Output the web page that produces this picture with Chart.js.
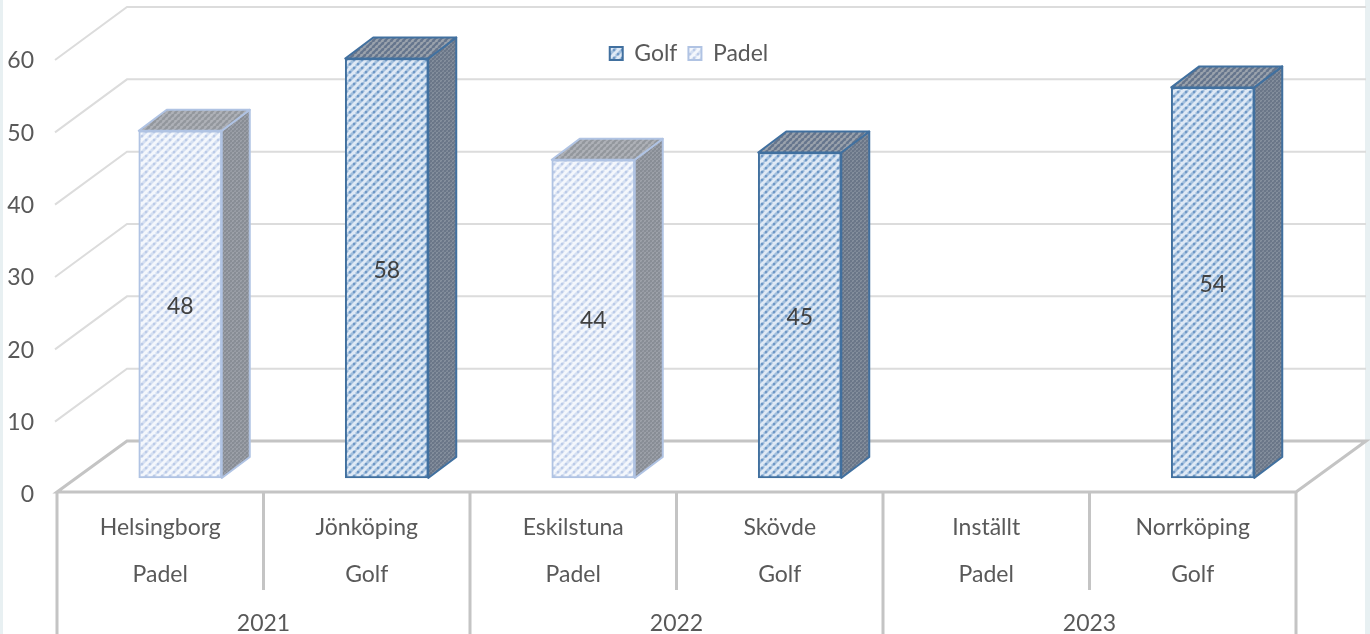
<!DOCTYPE html>
<html><head><meta charset="utf-8">
<style>
html,body{margin:0;padding:0;width:1370px;height:634px;overflow:hidden;
background:linear-gradient(to right,#e8f0f2 3px,#fff 3px,#fff 1365px,#e8f0f2 1365px);}
canvas{display:block;filter:blur(0.45px);}
</style>
<script src="https://cdn.jsdelivr.net/npm/chart.js@4/dist/chart.umd.min.js"></script>
</head><body>
<canvas id="c" width="1370" height="634"></canvas>
<script>
const categories=[["Helsingborg","Padel"],["Jönköping","Golf"],["Eskilstuna","Padel"],["Skövde","Golf"],["Inställt","Padel"],["Norrköping","Golf"]];
const years=["2021","2022","2023"];
const golf=[null,58,null,45,null,54];
const padel=[48,null,44,null,null,null];
const yMax=60, yStep=10;
const FONT='Lato, Carlito, sans-serif';
const TXT='#595959';

function hatch(bg,stripe,dot,s=8){
  const c=document.createElement('canvas');c.width=c.height=s;
  const x=c.getContext('2d');
  x.fillStyle=bg;x.fillRect(0,0,s,s);
  x.strokeStyle=stripe;x.lineWidth=s*0.36;
  for(let o=-s;o<=s;o+=s){x.beginPath();x.moveTo(o,s);x.lineTo(o+s,0);x.stroke();}
  x.fillStyle=dot;
  x.fillRect(s*0.25-1,s*0.75-1,2.2,2.2);x.fillRect(s*0.75-1,s*0.25-1,2.2,2.2);
  return x.createPattern(c,'repeat');
}
const ctxMain=document.getElementById('c').getContext('2d');
const styles={
  Golf:{front:hatch('#dfe9f5','#a2bfdd','#6f98c6'),border:'#41709f',
        side:hatch('#86909e','#6a7688','#6a7688',4),top:hatch('#9aa2ac','#66768d','#66768d',6)},
  Padel:{front:hatch('#f4f7fc','#d5e0f2','#bccbe8'),border:'#b0c3e3',
        side:hatch('#9ea2aa','#888d95','#888d95',4),top:hatch('#aeb1b7','#93979d','#93979d',6)}
};

const plane={dx:70,dy:-51};     // depth of the 3D floor / walls
const barShift={dx:20,dy:-14};  // bars stand inside the depth
const barDepth={dx:28,dy:-21};

const scene={
  id:'scene',
  afterLayout(chart){
    const lg=chart.legend;
    lg.top+=17;lg.bottom+=17;lg.left+=41;lg.right+=41;
  },
  beforeDatasetsDraw(chart){
    const {ctx,scales:{y,x}}=chart, L=x.left,R=x.right;
    ctx.save();ctx.lineJoin='miter';
    ctx.strokeStyle='#dcdcdc';ctx.lineWidth=2;
    for(let v=yStep;v<=yMax;v+=yStep){
      const p=y.getPixelForValue(v);
      ctx.beginPath();ctx.moveTo(L-2,p+2);ctx.lineTo(L+plane.dx,p+plane.dy);ctx.lineTo(R+plane.dx,p+plane.dy);ctx.stroke();
    }
    const p0=y.getPixelForValue(0);
    ctx.strokeStyle='#c4c4c4';ctx.lineWidth=3;
    ctx.beginPath();ctx.moveTo(L,p0);ctx.lineTo(L+plane.dx,p0+plane.dy);ctx.lineTo(R+plane.dx,p0+plane.dy);ctx.lineTo(R,p0);ctx.closePath();ctx.stroke();
    const cw=(R-L)/categories.length, bottom=chart.height;
    ctx.beginPath();
    categories.forEach((_,i)=>{
      const px=x.getPixelForTick(i)-cw/2;
      ctx.moveTo(px,p0);ctx.lineTo(px,i%2===0?bottom:590);
    });
    ctx.moveTo(R,p0);ctx.lineTo(R,bottom);
    ctx.stroke();
    ctx.restore();
    chart.data.datasets.forEach((ds,di)=>{
      const st=styles[ds.label];
      chart.getDatasetMeta(di).data.forEach((bar,i)=>{
        if(ds.data[i]==null)return;
        const b=bar.getProps(['x','y','base','width'],true);
        const l=b.x-b.width/2+barShift.dx,r=b.x+b.width/2+barShift.dx,t=b.y+barShift.dy,bt=b.base+barShift.dy;
        const d=barDepth;
        ctx.save();ctx.lineWidth=2;ctx.strokeStyle=ds.borderColor;ctx.lineJoin='round';
        ctx.fillStyle=st.side;
        ctx.beginPath();ctx.moveTo(r,t);ctx.lineTo(r+d.dx,t+d.dy);ctx.lineTo(r+d.dx,bt+d.dy);ctx.lineTo(r,bt);ctx.closePath();ctx.fill();ctx.stroke();
        ctx.fillStyle=st.top;
        ctx.beginPath();ctx.moveTo(l,t);ctx.lineTo(l+d.dx,t+d.dy);ctx.lineTo(r+d.dx,t+d.dy);ctx.lineTo(r,t);ctx.closePath();ctx.fill();ctx.stroke();
        ctx.restore();
      });
    });
    ctx.save();
    ctx.translate(barShift.dx,barShift.dy);
  },
  afterDatasetsDraw(chart){
    const {ctx}=chart;
    ctx.restore();
    ctx.save();
    ctx.font='23px '+FONT;ctx.fillStyle='#404040';ctx.textAlign='center';ctx.textBaseline='middle';
    chart.data.datasets.forEach((ds,di)=>{
      chart.getDatasetMeta(di).data.forEach((bar,i)=>{
        if(ds.data[i]==null)return;
        const b=bar.getProps(['x','y','base'],true);
        ctx.fillText(String(ds.data[i]),b.x+barShift.dx,(b.y+b.base)/2+barShift.dy+2);
      });
    });
    ctx.restore();
  }
};

new Chart(ctxMain,{
  type:'bar',
  data:{labels:categories,datasets:[
    {label:'Golf',data:golf,backgroundColor:styles.Golf.front,borderColor:styles.Golf.border,borderWidth:2,borderSkipped:false,barThickness:83,grouped:false,clip:false},
    {label:'Padel',data:padel,backgroundColor:styles.Padel.front,borderColor:styles.Padel.border,borderWidth:2,borderSkipped:false,barThickness:83,grouped:false,clip:false}
  ]},
  plugins:[scene],
  options:{
    responsive:false,animation:false,
    layout:{padding:{top:14,right:74,left:0,bottom:0}},
    plugins:{
      tooltip:{enabled:false},
      legend:{position:'top',align:'center',labels:{boxWidth:13,boxHeight:13,padding:11,color:TXT,font:{family:FONT,size:23}}}
    },
    scales:{
      y:{min:0,max:yMax,ticks:{stepSize:yStep,color:TXT,padding:15,labelOffset:3,font:{family:FONT,size:23}},grid:{display:false},border:{display:false},
         afterFit(s){s.width=57;}},
      x:{position:'bottom',ticks:{color:TXT,padding:4,maxRotation:0,autoSkip:false,font:{family:FONT,size:23,lineHeight:2.04}},grid:{display:false},border:{display:false},
         afterFit(s){s.height=110;}},
      x2:{type:'category',labels:years,position:'bottom',ticks:{color:TXT,padding:0,maxRotation:0,font:{family:FONT,size:23}},grid:{display:false},border:{display:false},
         afterFit(s){s.height=32;}}
    }
  }
});
</script>
</body></html>
